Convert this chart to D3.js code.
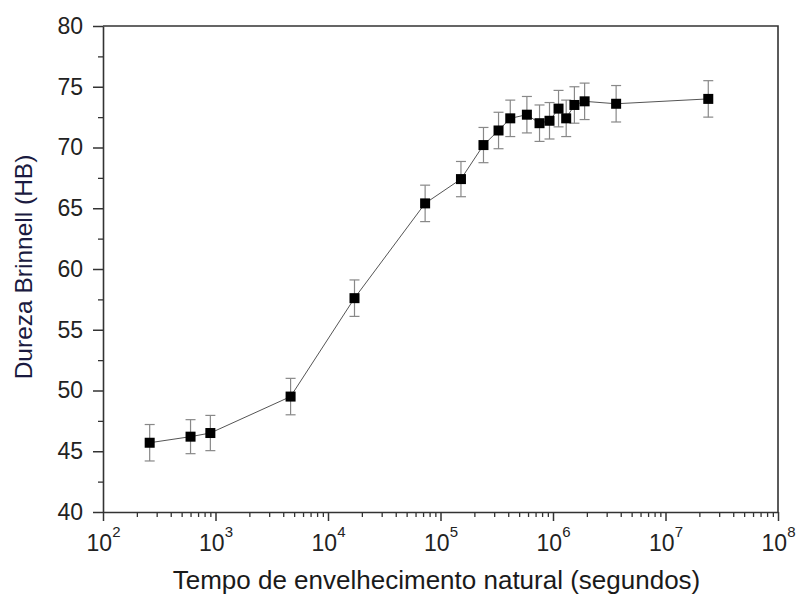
<!DOCTYPE html>
<html>
<head>
<meta charset="utf-8">
<script src="https://cdn.jsdelivr.net/npm/d3@7"></script>
<style>
  body { margin: 0; background: #fff; }
  svg { display: block; font-family: "Liberation Sans", Arial, sans-serif; }
  .axis path, .axis line { stroke: #333; }
</style>
</head>
<body>
<div class="layout"></div>
<script>
    // tempo (s), dureza (HB) e barra de erro
    var tempos = [260, 600, 900, 4650, 17200, 73000, 152000, 241000, 328000, 417000,
                  586000, 759000, 931000, 1120000, 1310000, 1550000, 1910000, 3640000, 24000000];
    var dureza = [45.7, 46.2, 46.5, 49.5, 57.6, 65.4, 67.4, 70.2, 71.4, 72.4,
                  72.7, 72.0, 72.2, 73.2, 72.4, 73.5, 73.8, 73.6, 74.0];
    var erro = [1.5, 1.4, 1.45, 1.5, 1.5, 1.5, 1.45, 1.45, 1.5, 1.5,
                1.5, 1.5, 1.5, 1.5, 1.5, 1.5, 1.5, 1.5, 1.5];
    var xTicks = [1e2, 1e3, 1e4, 1e5, 1e6, 1e7, 1e8];
    var yTicks = [40, 45, 50, 55, 60, 65, 70, 75, 80];
    var yMinor = [42.5, 47.5, 52.5, 57.5, 62.5, 67.5, 72.5, 77.5];
    var xTitle = "Tempo de envelhecimento natural (segundos)";
    var yTitle = "Dureza Brinnell (HB)";

    var margin = {top: 26, right: 19, bottom: 83, left: 103},
        width = 797 - margin.left - margin.right,
        height = 595 - margin.top - margin.bottom;

    var data = tempos.map(function(t, i) {
        return {t: t, v: dureza[i], e: erro[i]};
    });

    var x = d3.scaleLog().domain([1e2, 1e8]).range([0, width]);
    var y = d3.scaleLinear().domain([40, 80]).range([height, 0]);

    var svg = d3.select(".layout").append("svg")
        .attr("width", 797)
        .attr("height", 595)
        .append("g")
        .attr("transform", "translate(" + margin.left + "," + margin.top + ")");

    // minor ticks
    var xMinor = [];
    for (var d = 2; d < 8; d++) {
        for (var k = 2; k < 10; k++) xMinor.push(k * Math.pow(10, d));
    }

    svg.append("g")
        .attr("class", "axis")
        .attr("transform", "translate(0," + height + ")")
        .call(d3.axisBottom(x).tickValues(xMinor).tickSize(5).tickSizeOuter(0).tickFormat(""))
        .call(function(g) { g.select(".domain").remove(); })
        .selectAll("line").attr("stroke-width", 1.3);

    svg.append("g")
        .attr("class", "axis")
        .call(d3.axisLeft(y).tickValues(yMinor).tickSize(5).tickSizeOuter(0).tickFormat(""))
        .call(function(g) { g.select(".domain").remove(); })
        .selectAll("line").attr("stroke-width", 1.3);

    var xAxis = svg.append("g")
        .attr("class", "axis")
        .attr("transform", "translate(0," + height + ")")
        .call(d3.axisBottom(x).tickValues(xTicks).tickSize(9).tickSizeOuter(0).tickPadding(14));
    xAxis.selectAll("line").attr("stroke-width", 1.5);
    xAxis.select(".domain").attr("stroke-width", 1.6);
    xAxis.selectAll(".tick text")
        .attr("font-size", 23)
        .attr("fill", "#222")
        .attr("dy", "0.71em")
        .text(null)
        .each(function(d) {
            var t = d3.select(this);
            t.append("tspan").text("10");
            t.append("tspan")
                .attr("dy", -14)
                .attr("font-size", 15)
                .text(Math.round(Math.log10(d)));
        });

    var yAxis = svg.append("g")
        .attr("class", "axis")
        .call(d3.axisLeft(y).tickValues(yTicks).tickSize(10).tickSizeOuter(0).tickPadding(10));
    yAxis.selectAll("line").attr("stroke-width", 1.5);
    yAxis.select(".domain").attr("stroke-width", 1.6);
    yAxis.selectAll(".tick text")
        .attr("font-size", 23)
        .attr("fill", "#222");

    // frame top/right
    svg.append("path")
        .attr("d", "M0,0H" + width + "V" + height)
        .attr("fill", "none")
        .attr("stroke", "#333")
        .attr("stroke-width", 1.6);

    // line
    svg.append("path")
        .datum(data)
        .attr("fill", "none")
        .attr("stroke", "#555")
        .attr("stroke-width", 1)
        .attr("d", d3.line().x(function(d) { return x(d.t); }).y(function(d) { return y(d.v); }));

    // error bars
    var bars = svg.append("g")
        .attr("stroke", "#888")
        .attr("stroke-width", 1.2)
        .selectAll("g")
        .data(data)
        .enter().append("g");
    bars.append("line")
        .attr("x1", function(d) { return x(d.t); })
        .attr("x2", function(d) { return x(d.t); })
        .attr("y1", function(d) { return y(d.v - d.e); })
        .attr("y2", function(d) { return y(d.v + d.e); });
    bars.append("line")
        .attr("x1", function(d) { return x(d.t) - 5; })
        .attr("x2", function(d) { return x(d.t) + 5; })
        .attr("y1", function(d) { return y(d.v - d.e); })
        .attr("y2", function(d) { return y(d.v - d.e); });
    bars.append("line")
        .attr("x1", function(d) { return x(d.t) - 5; })
        .attr("x2", function(d) { return x(d.t) + 5; })
        .attr("y1", function(d) { return y(d.v + d.e); })
        .attr("y2", function(d) { return y(d.v + d.e); });

    // markers
    svg.append("g")
        .selectAll("rect")
        .data(data)
        .enter().append("rect")
        .attr("x", function(d) { return x(d.t) - 5; })
        .attr("y", function(d) { return y(d.v) - 5; })
        .attr("width", 10)
        .attr("height", 10)
        .attr("fill", "#000");

    // titles
    svg.append("text")
        .attr("x", width / 2 - 4)
        .attr("y", height + 77)
        .attr("text-anchor", "middle")
        .attr("font-size", 26)
        .attr("fill", "#1a1a1a")
        .text(xTitle);

    svg.append("text")
        .attr("transform", "translate(" + (32 - margin.left) + "," + (height / 2 - 2) + ") rotate(-90)")
        .attr("text-anchor", "middle")
        .attr("font-size", 24.5)
        .attr("fill", "#1a1a40")
        .text(yTitle);
</script>
</body>
</html>
